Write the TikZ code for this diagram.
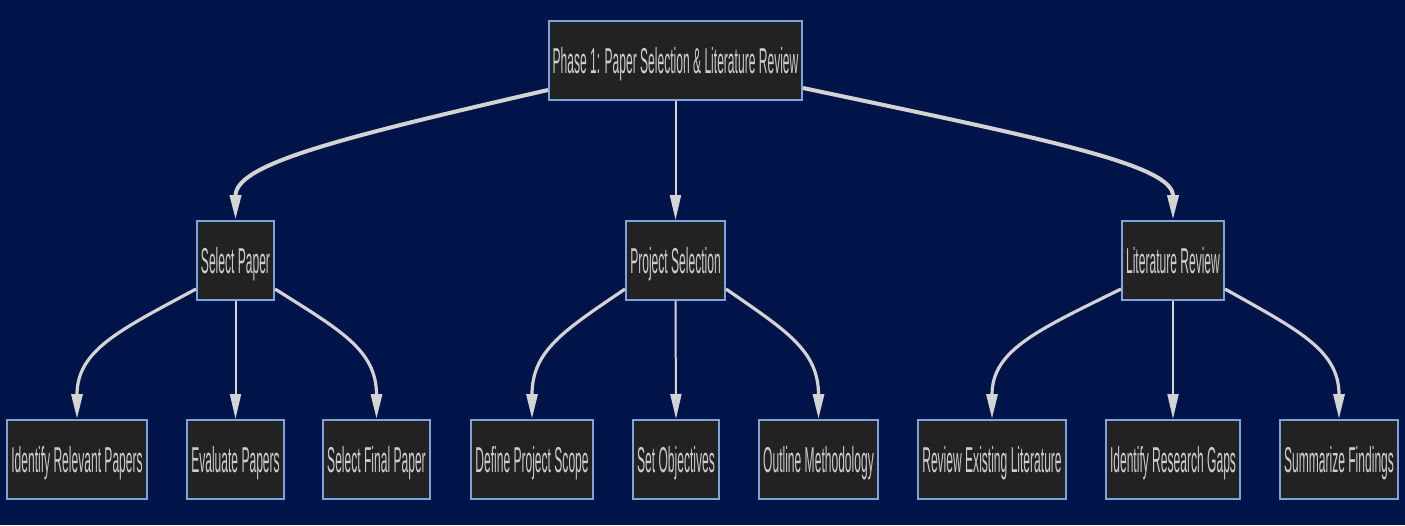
\documentclass[tikz,border=0pt]{standalone}
\usepackage{fontspec}
\newfontfamily\chartfont[FakeStretch=0.335]{Liberation Sans}
\usetikzlibrary{arrows.meta}
\definecolor{bgc}{HTML}{00144A}
\definecolor{boxc}{HTML}{222222}
\definecolor{edgec}{HTML}{D3D3D3}
\definecolor{linec}{HTML}{7AA6DC}
\definecolor{txtc}{HTML}{CCCCCC}
\tikzset{
  box/.style={draw=linec, fill=boxc, line width=1.6pt, text=txtc,
              font=\chartfont\fontsize{36}{40}\selectfont,
              minimum height=79.4pt, text height=25.8pt, text depth=0pt, inner xsep=0pt},
  arr/.style={-{Triangle[length=25pt,width=11pt]}, draw=edgec, line width=2pt},
  carr/.style={arr, line width=4pt},
  larr/.style={arr, line width=3.2pt},
}

\begin{document}
\begin{tikzpicture}[x=1pt, y=-1pt]
  \fill[bgc] (0,0) rectangle (1405,525);
  \useasboundingbox (0,0) rectangle (1405,525);

  % phases
  \node[box, minimum width=253.4pt] (root) at (675.5,60.5) {Phase 1: Paper Selection \& Literature Review};
  \node[box, minimum width=77.4pt] (sel) at (235.5,260.5) {Select Paper};
  \node[box, minimum width=99.4pt] (proj) at (675.5,260.5) {Project Selection};
  \node[box, minimum width=102.4pt] (lit) at (1173,260.5) {Literature Review};

  % tasks
  \node[box, minimum width=140.4pt] (ident) at (77,459.5) {Identify Relevant Papers};
  \node[box, minimum width=97.4pt] (evalp) at (235.5,459.5) {Evaluate Papers};
  \node[box, minimum width=107.4pt] (final) at (376.5,459.5) {Select Final Paper};
  \node[box, minimum width=122.4pt] (scope) at (532,459.5) {Define Project Scope};
  \node[box, minimum width=86.4pt] (objs) at (676,459.5) {Set Objectives};
  \node[box, minimum width=119.4pt] (method) at (818.5,459.5) {Outline Methodology};
  \node[box, minimum width=148.4pt] (review) at (992,459.5) {Review Existing Literature};
  \node[box, minimum width=134.4pt] (gaps) at (1173,459.5) {Identify Research Gaps};
  \node[box, minimum width=118.4pt] (summ) at (1339,459.5) {Summarize Findings};

  % root to phases
  \draw[carr] ([yshift=11pt]root.south west) .. controls (330,140) and (235.5,165) .. (sel.north);
  \draw[arr] (root.south) -- (proj.north);
  \draw[carr] ([yshift=13pt]root.south east) .. controls (1050,140) and (1173,165) .. (lit.north);

  % phases to tasks
  \draw[larr] ([yshift=12pt]sel.south west) .. controls (120,330) and (77,350) .. (ident.north);
  \draw[arr] (sel.south) -- (evalp.north);
  \draw[larr] ([yshift=12pt]sel.south east) .. controls (340,330) and (376.5,350) .. (final.north);
  \draw[larr] ([yshift=12pt]proj.south west) .. controls (565,330) and (532,350) .. (scope.north);
  \draw[arr] (proj.south) -- (objs.north);
  \draw[larr] ([yshift=12pt]proj.south east) .. controls (785,330) and (818.5,350) .. (method.north);
  \draw[larr] ([yshift=12pt]lit.south west) .. controls (1038,330) and (992,350) .. (review.north);
  \draw[arr] (lit.south) -- (gaps.north);
  \draw[larr] ([yshift=12pt]lit.south east) .. controls (1298,330) and (1339,350) .. (summ.north);
\end{tikzpicture}
\end{document}
